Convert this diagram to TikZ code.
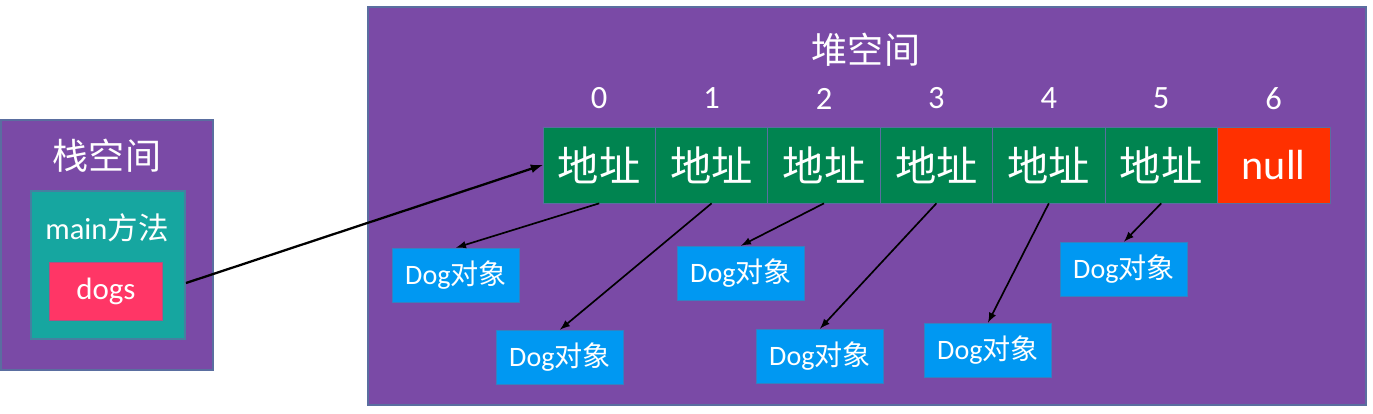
\documentclass[tikz,border=0pt]{standalone}
\usepackage{fontspec}
\setmainfont{Carlito}
\newfontfamily\cjk{Noto Sans CJK SC}
\definecolor{spacebg}{RGB}{122,74,166}
\definecolor{boxline}{RGB}{90,110,160}
\definecolor{frameteal}{RGB}{22,166,160}
\definecolor{dogspink}{RGB}{255,54,102}
\definecolor{addrgreen}{RGB}{0,132,80}
\definecolor{nullred}{RGB}{255,48,0}
\definecolor{dogblue}{RGB}{0,152,242}
\tikzset{
  cellbox/.style={draw=boxline, fill=addrgreen, minimum width=2.25cm, minimum height=1.52cm,
    inner sep=0pt, text=white, font=\cjk\fontsize{23.5}{24}\selectfont},
  dogbox/.style={draw=boxline!60!dogblue, fill=dogblue, minimum width=2.54cm, minimum height=1.08cm,
    inner sep=0pt, text=white, font=\fontsize{16}{16}\selectfont},
  idx/.style={text=white, font=\fontsize{18.5}{19}\selectfont},
  title/.style={text=white, font=\cjk\fontsize{20.5}{21}\selectfont},
  ptr/.style={-latex, line width=0.95pt}
}
\begin{document}
\begin{tikzpicture}[x=0.02cm,y=-0.02cm]
    \useasboundingbox (0,0) rectangle (1373,413);
    \fill[white] (0,0) rectangle (1373,413);
    % pila
    \draw[boxline, fill=spacebg, line width=0.6pt] (1,120) rectangle (213,370);
    \draw[boxline!70!frameteal, fill=frameteal, line width=0.6pt] (31,191) rectangle (185,339);
    \node[title] (stacktitle) at (107,156) {栈空间};
    \node[text=white, font=\fontsize{17.4}{18}\selectfont] (mainlabel) at (107,228) {main{\cjk 方法}};
    \node[draw=boxline!50!dogspink, fill=dogspink, minimum width=2.26cm, minimum height=1.16cm, inner sep=0pt,
        text=white, font=\fontsize{17.6}{18}\selectfont] (dogs) at (106,291) {dogs};
    \coordinate (dogsref) at (186,283);
    % monticulo
    \draw[boxline, fill=spacebg, line width=0.6pt] (368,7) rectangle (1366,405);
    \node[title] (heaptitle) at (866,50) {堆空间};
    \node[idx] (i0) at (599.2,98.5) {0};
    \node[idx] (i1) at (711.6,98.5) {1};
    \node[idx] (i2) at (824,98.5) {2};
    \node[idx] (i3) at (936.4,98.5) {3};
    \node[idx] (i4) at (1048.8,98.5) {4};
    \node[idx] (i5) at (1161.2,98.5) {5};
    \node[idx] (i6) at (1273.6,98.5) {6};
    \node[cellbox] (cell0) at (599.2,165) {地址};
    \node[cellbox] (cell1) at (711.6,165) {地址};
    \node[cellbox] (cell2) at (824,165) {地址};
    \node[cellbox] (cell3) at (936.4,165) {地址};
    \node[cellbox] (cell4) at (1048.8,165) {地址};
    \node[cellbox] (cell5) at (1161.2,165) {地址};
    \node[cellbox, fill=nullred, font=\fontsize{24}{24}\selectfont] (cell6) at (1273.6,165) {null};
    \node[dogbox] (dog0) at (456,275) {Dog{\cjk 对象}};
    \node[dogbox] (dog1) at (560,357) {Dog{\cjk 对象}};
    \node[dogbox] (dog2) at (741,273) {Dog{\cjk 对象}};
    \node[dogbox] (dog3) at (820,356) {Dog{\cjk 对象}};
    \node[dogbox] (dog4) at (988,350) {Dog{\cjk 对象}};
    \node[dogbox] (dog5) at (1124,269) {Dog{\cjk 对象}};
    % flechas
    \draw[-latex, line width=1.3pt] (dogsref) -- (cell0.west);
    \draw[ptr] (cell0.south) -- (dog0.north);
    \draw[ptr] (cell1.south) -- (dog1.north);
    \draw[ptr] (cell2.south) -- (dog2.north);
    \draw[ptr] (cell3.south) -- (dog3.north);
    \draw[ptr] (cell4.south) -- (dog4.north);
    \draw[ptr] (cell5.south) -- (dog5.north);
\end{tikzpicture}
\end{document}
